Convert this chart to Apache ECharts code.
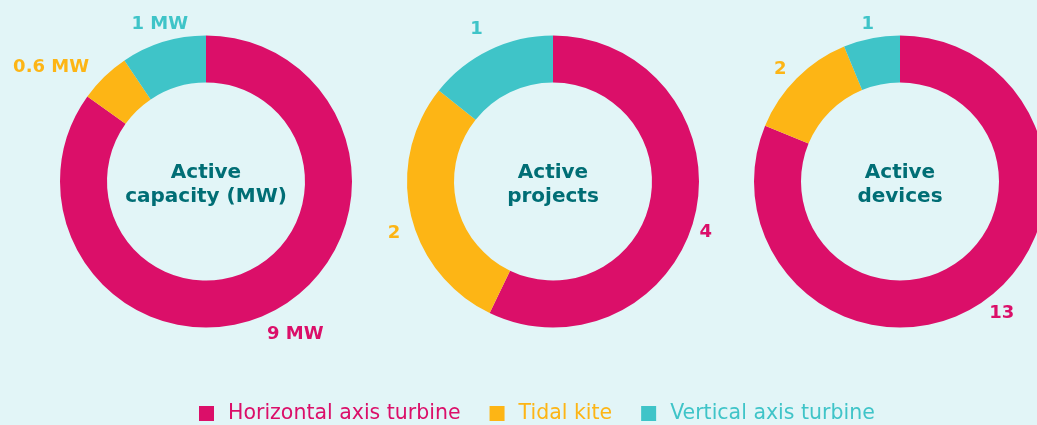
<!DOCTYPE html>
<html>
<head>
<meta charset="utf-8">
<script src="https://cdn.jsdelivr.net/npm/echarts@6/dist/echarts.min.js"></script>
<style>
  html, body { margin: 0; padding: 0; background: #E2F5F7; }
  #chart { width: 1037px; height: 425px; }
</style>
</head>
<body>
<div id="chart"></div>
<script>
// ---- data ----
const categories = ['Horizontal axis turbine', 'Tidal kite', 'Vertical axis turbine'];
const capacityMW = [9, 0.6, 1];
const activeProjects = [4, 2, 1];
const activeDevices = [13, 2, 1];
const centerTitles = ['Active\ncapacity (MW)', 'Active\nprojects', 'Active\ndevices'];
const valueUnits = [' MW', '', ''];

// ---- styling ----
const colors = ['#DB0F69', '#FDB515', '#3FC4C8'];
const titleColor = '#006E75';
const FONT = 'DejaVu Sans';
const pieCenters = [[206, 181.5], [553, 181.5], [900, 181.5]];
// small label nudges [chartIndex][categoryIndex] = [dx, dy]
const labelNudges = [
  [[14, 6], [-40, 4], [2, 1]],
  [[-8, 14], [2, 15], [-5, -4]],
  [[10, -5], [-3, 5], [0, 5]]
];

const datasets = [capacityMW, activeProjects, activeDevices];
const series = [];
const titles = [];

datasets.forEach(function (values, ci) {
  const center = pieCenters[ci];
  series.push({
    type: 'pie',
    name: 'ring' + ci,
    center: center,
    radius: [99, 146],
    startAngle: 90,
    clockwise: true,
    silent: true,
    label: { show: false },
    labelLine: { show: false },
    itemStyle: { borderWidth: 0 },
    emphasis: { disabled: true },
    data: values.map(function (v, i) {
      return { name: categories[i], value: v, itemStyle: { color: colors[i] } };
    })
  });
  series.push({
    type: 'pie',
    name: 'labels' + ci,
    center: center,
    radius: [155, 169],
    startAngle: 90,
    clockwise: true,
    silent: true,
    itemStyle: { color: 'rgba(0,0,0,0)', borderWidth: 0 },
    labelLine: { show: false },
    emphasis: { disabled: true },
    label: {
      show: true,
      position: 'inside',
      fontFamily: FONT,
      fontSize: 18,
      fontWeight: 'bold',
      formatter: function (p) { return p.value + valueUnits[ci]; }
    },
    data: values.map(function (v, i) {
      return {
        name: categories[i],
        value: v,
        label: { color: colors[i], offset: labelNudges[ci][i] }
      };
    })
  });
  titles.push({
    text: centerTitles[ci],
    left: center[0],
    top: center[1] + 3,
    padding: 0,
    textAlign: 'center',
    textVerticalAlign: 'middle',
    textStyle: {
      fontFamily: FONT,
      fontSize: 20,
      fontWeight: 'bold',
      color: titleColor,
      lineHeight: 24
    }
  });
});

const chart = echarts.init(document.getElementById('chart'));
chart.setOption({
  backgroundColor: '#E2F5F7',
  animation: false,
  title: titles,
  legend: {
    left: 199,
    top: 403,
    padding: 0,
    icon: 'rect',
    itemWidth: 15,
    itemHeight: 15,
    itemGap: 29,
    selectedMode: false,
    textStyle: { fontFamily: FONT, fontSize: 20.5, padding: [0, 0, 0, 9] },
    data: categories.map(function (c, i) {
      return { name: c, itemStyle: { color: colors[i] }, textStyle: { color: colors[i] } };
    })
  },
  series: series
});
</script>
</body>
</html>
